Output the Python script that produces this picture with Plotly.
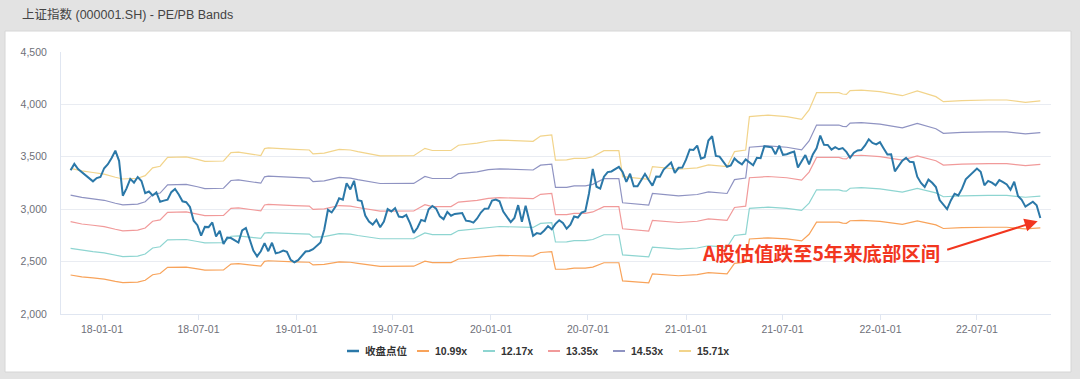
import pandas as pd
import plotly.graph_objects as go

# ---------------- data ----------------
# weekly closes of the SSE Composite (week ending Friday), None = no trading that week
close_2017 = [3372, 3432, 3383, 3353, 3317, 3289, 3266, 3297, 3307]
close_2018 = [3391, 3429, 3488, 3558, 3462, 3129, 3199, 3289, 3254, 3307, 3269, 3153, 3169,
              3131, 3160, 3071, 3082, 3091, 3163, 3193, 3141, 3075, 3067, 3022, 2890, 2847,
              2747, 2831, 2829, 2874, 2740, 2795, 2669, 2730, 2725, 2703, 2682, 2797, 2821,
              None, 2606, 2550, 2599, 2676, 2599, 2680, 2580, 2588, 2606, 2594, 2516, 2494]
close_2019 = [2514, 2554, 2596, 2601, 2618, None, 2682, 2804, 2994, 2969, 3022, 3104, 3091,
              3247, 3189, 3271, 3086, 3078, 2939, 2882, 2853, 2899, 2828, 2882, 3001, 2979,
              3011, 2930, 2924, 2945, 2868, 2774, 2823, 2898, 2886, 2999, 3031, 3006, 2932,
              2905, 2974, 2938, 2955, 2958, 2964, 2891, 2886, 2872, 2912, 2968, 3005, 3006]
close_2020 = [3083, 3092, 3075, 2977, None, 2876, 2917, 3039, 2880, 3034, 2887, 2746, 2772,
              2764, 2797, 2839, 2809, 2860, 2895, 2868, 2814, 2852, 2930, 2920, 2968, 2980,
              3152, 3384, 3214, 3197, 3310, 3354, 3360, 3381, 3404, 3355, 3260, 3338, 3219,
              3218, 3272, 3336, 3278, 3225, 3312, 3310, 3378, 3408, 3445, 3347, 3395, 3397]
close_2021 = [3473, 3570, 3566, 3607, 3483, 3496, 3655, 3696, 3509, 3502, 3454, 3405, 3418,
              3484, 3451, 3427, 3475, 3447, 3419, 3490, 3487, 3601, 3592, 3590, 3525, 3607,
              3519, 3525, 3539, 3550, 3397, 3458, 3517, 3427, 3522, 3581, 3703, 3614, 3613,
              3568, 3592, 3572, 3583, 3547, 3491, 3539, 3560, 3564, 3608, 3667, 3632, 3618, 3640]
close_2022 = [3580, 3522, 3523, 3361, None, 3463, 3491, 3452, 3448, 3310, 3251, 3212,
              3282, 3252, 3211, 3087, 3047, 3001, 3084, 3147, 3131, 3196, 3285, 3317, 3350,
              3388, 3357, 3228, 3270, 3253, 3227, 3277, 3258, 3236, 3186, 3262, 3126, 3089,
              3024, None, 3071, 3038, 2916]
close_start, close_end = "2017-11-03", "2022-10-28"

# PE band levels (dates where the band level was read)
band_dates = ['2017-11-03', '2017-11-24', '2017-12-15', '2018-01-05', '2018-01-26', '2018-02-09',
              '2018-03-09', '2018-03-23', '2018-04-06', '2018-04-20', '2018-05-04', '2018-06-08',
              '2018-06-29', '2018-07-13', '2018-08-17', '2018-08-31', '2018-09-14', '2018-10-26',
              '2018-11-02', '2018-11-09', '2018-12-28', '2019-01-25', '2019-02-01', '2019-02-22',
              '2019-03-22', '2019-04-12', '2019-04-26', '2019-05-10', '2019-06-07', '2019-08-09',
              '2019-08-30', '2019-09-13', '2019-10-18', '2019-11-01', '2019-12-06', '2019-12-27',
              '2020-01-17', '2020-03-20', '2020-04-03', '2020-04-24', '2020-05-01', '2020-05-22',
              '2020-06-05', '2020-06-26', '2020-07-10', '2020-07-31', '2020-08-28', '2020-09-04',
              '2020-10-09', '2020-10-23', '2020-10-30', '2020-11-27', '2020-12-18', '2021-01-22',
              '2021-02-12', '2021-03-19', '2021-03-26', '2021-04-02', '2021-04-23', '2021-04-30',
              '2021-06-04', '2021-07-09', '2021-08-06', '2021-08-20', '2021-09-03', '2021-10-15',
              '2021-10-22', '2021-10-29', '2021-11-05', '2021-11-26', '2021-12-31', '2022-01-14',
              '2022-02-11', '2022-03-11', '2022-04-15', '2022-04-29', '2022-06-03', '2022-07-22',
              '2022-08-26', '2022-09-30', '2022-10-28']

band_1099 = [2372, 2354, 2344, 2333, 2312, 2300, 2305, 2322, 2375, 2386,
             2445, 2448, 2431, 2418, 2420, 2476, 2480, 2457, 2503, 2508,
             2498, 2494, 2468, 2473, 2498, 2494, 2483, 2471, 2454, 2456,
             2505, 2490, 2490, 2525, 2539, 2554, 2560, 2552, 2587, 2594,
             2427, 2428, 2438, 2438, 2448, 2489, 2489, 2316, 2300, 2298,
             2383, 2372, 2365, 2375, 2394, 2383, 2434, 2483, 2494, 2716,
             2727, 2716, 2698, 2761, 2876, 2876, 2867, 2865, 2890, 2894,
             2883, 2875, 2856, 2888, 2850, 2816, 2824, 2828, 2828, 2812, 2821]
band_1217 = [2626, 2607, 2595, 2584, 2561, 2547, 2553, 2572, 2630, 2642,
             2708, 2711, 2692, 2678, 2680, 2742, 2746, 2721, 2772, 2777,
             2766, 2762, 2733, 2738, 2766, 2762, 2749, 2737, 2718, 2719,
             2774, 2758, 2758, 2796, 2812, 2828, 2835, 2826, 2865, 2872,
             2687, 2688, 2700, 2700, 2711, 2756, 2756, 2564, 2547, 2545,
             2639, 2626, 2619, 2630, 2651, 2639, 2696, 2749, 2762, 3008,
             3019, 3008, 2988, 3058, 3185, 3185, 3175, 3172, 3200, 3205,
             3193, 3184, 3163, 3198, 3156, 3119, 3127, 3131, 3131, 3114, 3124]
band_1335 = [2881, 2859, 2847, 2834, 2809, 2794, 2800, 2821, 2885, 2898,
             2970, 2974, 2953, 2938, 2940, 3008, 3012, 2984, 3040, 3046,
             3035, 3029, 2998, 3004, 3035, 3029, 3016, 3002, 2981, 2983,
             3043, 3025, 3025, 3068, 3085, 3103, 3110, 3100, 3142, 3151,
             2948, 2949, 2961, 2961, 2974, 3024, 3024, 2813, 2794, 2792,
             2894, 2881, 2873, 2885, 2908, 2894, 2957, 3016, 3029, 3300,
             3312, 3300, 3278, 3354, 3494, 3494, 3483, 3480, 3510, 3515,
             3502, 3493, 3469, 3508, 3462, 3421, 3430, 3435, 3435, 3416, 3427]
band_1453 = [3135, 3112, 3098, 3085, 3057, 3041, 3048, 3071, 3140, 3154,
             3233, 3237, 3214, 3197, 3200, 3274, 3279, 3248, 3309, 3316,
             3303, 3297, 3263, 3270, 3303, 3297, 3282, 3268, 3245, 3246,
             3312, 3293, 3293, 3339, 3357, 3377, 3385, 3374, 3420, 3430,
             3208, 3209, 3223, 3223, 3237, 3291, 3291, 3061, 3041, 3038,
             3150, 3135, 3127, 3140, 3165, 3150, 3219, 3282, 3297, 3591,
             3605, 3591, 3567, 3651, 3803, 3803, 3791, 3787, 3821, 3826,
             3811, 3801, 3776, 3818, 3768, 3724, 3733, 3738, 3738, 3718, 3730]
band_1571 = [3390, 3365, 3350, 3335, 3305, 3288, 3295, 3320, 3395, 3410,
             3495, 3500, 3475, 3457, 3460, 3540, 3545, 3512, 3578, 3585,
             3571, 3565, 3528, 3535, 3571, 3565, 3549, 3533, 3508, 3510,
             3581, 3560, 3560, 3610, 3630, 3651, 3660, 3648, 3698, 3708,
             3469, 3470, 3485, 3485, 3500, 3558, 3558, 3310, 3288, 3285,
             3406, 3390, 3381, 3395, 3422, 3406, 3480, 3549, 3565, 3883,
             3898, 3883, 3857, 3947, 4112, 4112, 4099, 4095, 4131, 4137,
             4121, 4110, 4083, 4128, 4074, 4026, 4036, 4042, 4042, 4020, 4033]

series_names = ["收盘点位", "10.99x", "12.17x", "13.35x", "14.53x", "15.71x"]
series_colors = ["#2b78a8", "#f8a35a", "#8ed5d1", "#f19a9a", "#8f93c2", "#f2d48b"]

x_ticks = ["2018-01-01", "2018-07-01", "2019-01-01", "2019-07-01", "2020-01-01",
           "2020-07-01", "2021-01-01", "2021-07-01", "2022-01-01", "2022-07-01"]
x_range = ["2017-10-16", "2022-11-17"]
y_range = [2000, 4500]

title_text = "上证指数 (000001.SH) - PE/PB Bands"
note_text = "A股估值跌至5年来底部区间"
note_pos = ("2021-09-12", 2585)
arrow_head = ("2022-10-23", 2886)

# ---------------- figure ----------------
close_vals = close_2017 + close_2018 + close_2019 + close_2020 + close_2021 + close_2022
close_dates = pd.date_range(close_start, close_end, freq="W-FRI")
assert len(close_dates) == len(close_vals), (len(close_dates), len(close_vals))
bands = [band_1099, band_1217, band_1335, band_1453, band_1571]

W, H = 1080, 379
L, R, T, B = 61, 29, 52, 65
PW, PH = W - L - R, H - T - B


def px2x(px):
    return (px - L) / PW


def px2y(py):
    return (H - B - py) / PH


FONT = "Liberation Sans, Arial, Noto Sans CJK SC, sans-serif"

fig = go.Figure()
for vals, name, color in zip(bands, series_names[1:], series_colors[1:]):
    fig.add_trace(go.Scatter(x=band_dates, y=vals, mode="lines", name=name,
                             line=dict(color=color, width=1.2), showlegend=False))
fig.add_trace(go.Scatter(x=close_dates, y=close_vals, mode="lines", name=series_names[0],
                         connectgaps=True, line=dict(color=series_colors[0], width=2),
                         showlegend=False))

shapes = []
# white card
shapes.append(dict(type="rect", xref="paper", yref="paper", layer="below",
                   x0=px2x(5), x1=px2x(1071), y0=px2y(372), y1=px2y(31),
                   fillcolor="white", line=dict(color="#d6d6d6", width=1)))
annotations = []
annotations.append(dict(text=title_text, xref="paper", yref="paper", x=px2x(20), y=px2y(14),
                        xanchor="left", yanchor="middle", showarrow=False,
                        font=dict(family=FONT, size=12.5, color="#444444")))
# manual legend
leg_line_x = [347, 417, 483, 548, 613, 679]
leg_y = 351
for lx, name, color in zip(leg_line_x, series_names, series_colors):
    shapes.append(dict(type="line", xref="paper", yref="paper",
                       x0=px2x(lx), x1=px2x(lx + 12), y0=px2y(leg_y), y1=px2y(leg_y),
                       line=dict(color=color, width=2.5 if name == series_names[0] else 2)))
    annotations.append(dict(text="<b>" + name + "</b>", xref="paper", yref="paper",
                            x=px2x(lx + 16), y=px2y(leg_y), xanchor="left", yanchor="middle",
                            showarrow=False, font=dict(family=FONT, size=10.5, color="#333333")))
# red note + arrow
annotations.append(dict(text="<b>" + note_text + "</b>", x=note_pos[0], y=note_pos[1],
                        xref="x", yref="y", showarrow=False, xanchor="center", yanchor="middle",
                        font=dict(family="Noto Sans CJK SC, sans-serif", size=19.4, color="#f2361f")))
annotations.append(dict(text="", x=arrow_head[0], y=arrow_head[1], xref="x", yref="y",
                        showarrow=True, ax=-92, ay=29, arrowhead=2, arrowsize=1.3,
                        arrowwidth=2, arrowcolor="#f2361f", standoff=0))

fig.update_layout(
    width=W, height=H,
    margin=dict(l=L, r=R, t=T, b=B, pad=0),
    paper_bgcolor="#e3e3e3", plot_bgcolor="rgba(0,0,0,0)",
    shapes=shapes, annotations=annotations,
    showlegend=False, hovermode=False,
    font=dict(family=FONT, size=10.5, color="#6e7079"),
)
fig.update_xaxes(type="date", range=x_range, tickvals=x_ticks, tickformat="%y-%m-%d",
                 showgrid=False, showline=True, linecolor="#e0e6f1", linewidth=1,
                 ticks="outside", ticklen=5, tickcolor="#e0e6f1",
                 tickfont=dict(family=FONT, size=10.5, color="#6e7079"), zeroline=False)
fig.update_yaxes(range=y_range, dtick=500, tickformat=",", showgrid=True, gridcolor="#e9ecf2",
                 showline=True, linecolor="#e0e6f1", linewidth=1, ticks="", zeroline=False,
                 ticklabelstandoff=11,
                 tickfont=dict(family=FONT, size=10.5, color="#6e7079"))

fig.write_html("out.html", config={"displayModeBar": False},
               post_script="document.body.style.margin='0';")
